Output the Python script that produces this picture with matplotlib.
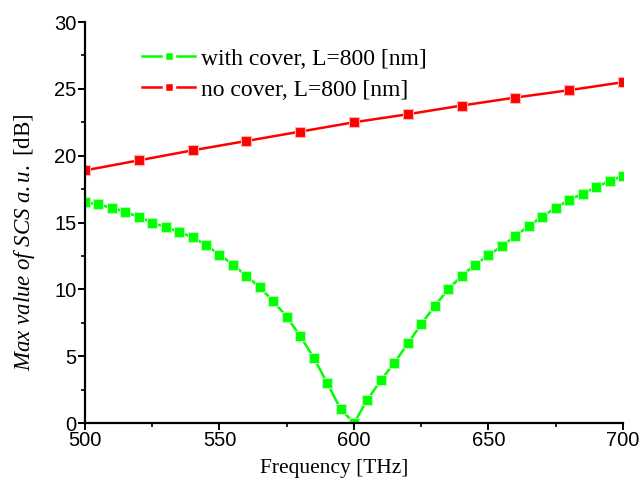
import matplotlib
matplotlib.use("Agg")
import matplotlib.pyplot as plt
from matplotlib.ticker import MultipleLocator

# frequency sweep, THz
freq_cover = list(range(500, 701, 5))
scs_cover = [16.5, 16.35, 16.1, 15.8, 15.4, 15.0, 14.65, 14.3, 13.9, 13.3,
             12.6, 11.85, 11.0, 10.15, 9.1, 7.95, 6.5, 4.9, 3.0, 1.05,
             0.0, 1.75, 3.2, 4.5, 5.95, 7.4, 8.75, 10.0, 11.0, 11.85,
             12.55, 13.25, 14.0, 14.75, 15.45, 16.1, 16.7, 17.15, 17.65, 18.1, 18.5]

freq_nocover = list(range(500, 701, 20))
scs_nocover = [18.9, 19.65, 20.4, 21.1, 21.8, 22.5, 23.1, 23.75, 24.35, 24.9, 25.5]

plt.rcParams['mathtext.fontset'] = 'custom'
plt.rcParams['mathtext.rm'] = 'Liberation Serif'
plt.rcParams['mathtext.it'] = 'Liberation Serif:italic'

fig = plt.figure(figsize=(6.42, 4.84), dpi=100)
ax = fig.add_axes([0.1324, 0.126, 0.838, 0.8285])

ax.plot(freq_cover, scs_cover, color='#00ff00', lw=1.8, marker='s', ms=7.5,
        mfc='#00ff00', mec='#b0ffb0', mew=0.8, label='with cover, L=800 [nm]')
ax.plot(freq_nocover, scs_nocover, color='#ff0000', lw=1.8, marker='s', ms=7.5,
        mfc='#ff0000', mec='#ffb0b0', mew=0.8, label='no cover, L=800 [nm]')

ax.set_xlim(500, 700)
ax.set_ylim(0, 30)
ax.xaxis.set_major_locator(MultipleLocator(50))
ax.xaxis.set_minor_locator(MultipleLocator(25))
ax.yaxis.set_major_locator(MultipleLocator(5))
ax.yaxis.set_minor_locator(MultipleLocator(2.5))

for side in ('top', 'right'):
    ax.spines[side].set_visible(False)
for side in ('left', 'bottom'):
    ax.spines[side].set_linewidth(1.6)

ax.tick_params(which='major', direction='out', length=5, width=1.4, pad=1,
               labelsize=14.5)
ax.tick_params(which='minor', direction='out', length=3, width=1.2)
for lab in ax.get_xticklabels() + ax.get_yticklabels():
    lab.set_family('Liberation Sans')

ax.set_xlabel('Frequency [THz]', family='Liberation Serif', fontsize=15.5)
ax.xaxis.set_label_coords(0.463, -0.09)
ax.set_ylabel(r'$\mathit{Max\ value\ of\ SCS\ a.u.}$ [dB]',
              family='Liberation Serif', fontsize=16.5)
ax.yaxis.set_label_coords(-0.09, 0.45)

leg = ax.legend(loc='upper left', bbox_to_anchor=(0.106, 0.935), frameon=False,
                prop={'family': 'Liberation Serif', 'size': 17},
                handlelength=2.25, handletextpad=0.25, labelspacing=0.4,
                borderaxespad=0, borderpad=0)
for h in leg.legend_handles:
    h.set_markeredgecolor('white')
    h.set_markeredgewidth(2.5)

fig.savefig('out.png', dpi=100)
